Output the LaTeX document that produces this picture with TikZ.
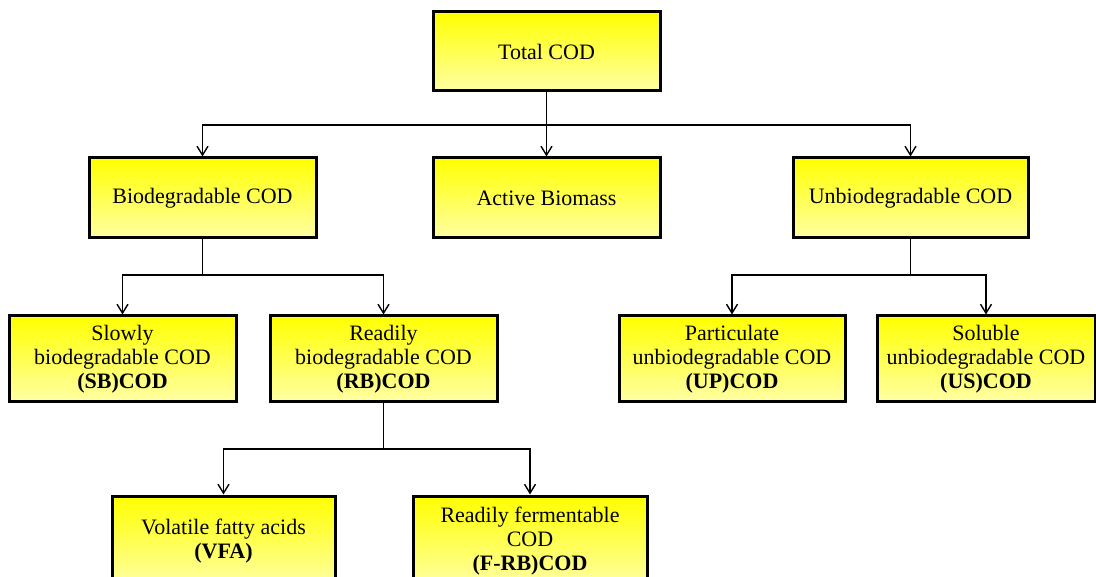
\documentclass[tikz,border=0pt]{standalone}
\usepackage{fontspec}
\setmainfont{Liberation Serif}
\usetikzlibrary{arrows.meta}
\definecolor{boxtop}{RGB}{255,255,0}
\definecolor{boxbot}{RGB}{255,255,165}
\tikzset{
  codbox/.style={draw=black, line width=3pt, rectangle, top color=boxtop, bottom color=boxbot,
    align=center, inner sep=0pt, font=\fontsize{22}{24}\selectfont},
  arr/.style={line width=1.4pt, -{Straight Barb[length=9pt,width=11pt,line width=1.4pt]}},
  ln/.style={line width=1.4pt}
}
\begin{document}
\begin{tikzpicture}[x=1pt,y=-1pt]
\useasboundingbox (0,0) rectangle (1096,577);
\clip (0,0) rectangle (1096,577);
% top level
\node[codbox, minimum width=227pt, minimum height=79pt] (total) at (546.5,51.5) {Total COD};
% second level
\node[codbox, minimum width=227pt, minimum height=80pt] (bio) at (202.5,198) {Biodegradable COD};
\node[codbox, minimum width=227pt, minimum height=80pt] (act) at (546.5,198) {Active Biomass};
\node[codbox, minimum width=235pt, minimum height=80pt] (unb) at (910.5,198) {Unbiodegradable COD};
% third level
\node[codbox, minimum width=227pt, minimum height=86pt] (slow) at (122.5,359) {Slowly\\biodegradable COD\\\textbf{(SB)COD}};
\node[codbox, minimum width=227pt, minimum height=86pt] (read) at (383.5,359) {Readily\\biodegradable COD\\\textbf{(RB)COD}};
\node[codbox, minimum width=226pt, minimum height=86pt] (part) at (732,359) {Particulate\\unbiodegradable COD\\\textbf{(UP)COD}};
\node[codbox, minimum width=218pt, minimum height=86pt] (sol) at (986,359) {Soluble\\unbiodegradable COD\\\textbf{(US)COD}};
% fourth level
\node[codbox, minimum width=223pt, minimum height=90pt] (vfa) at (223.5,541) {Volatile fatty acids\\\textbf{(VFA)}};
\node[codbox, minimum width=234pt, minimum height=90pt] (frb) at (530,541) {Readily fermentable\\COD\\\textbf{(F-RB)COD}};
% junction points
\coordinate (j1) at (546.5,125);
\coordinate (j2) at (202.5,275);
\coordinate (j3) at (910.5,275);
\coordinate (j4) at (383.5,449);
% connectors
\draw[ln] (total.south) -- (j1);
\draw[arr] (j1) -| (bio.north);
\draw[arr] (j1) -- (act.north);
\draw[arr] (j1) -| (unb.north);
\draw[ln] (bio.south) -- (j2);
\draw[arr] (j2) -| (slow.north);
\draw[arr] (j2) -| (read.north);
\draw[ln] (unb.south) -- (j3);
\draw[arr] (j3) -| (part.north);
\draw[arr] (j3) -| (sol.north);
\draw[ln] (read.south) -- (j4);
\draw[arr] (j4) -| (vfa.north);
\draw[arr] (j4) -| (frb.north);
\end{tikzpicture}
\end{document}
